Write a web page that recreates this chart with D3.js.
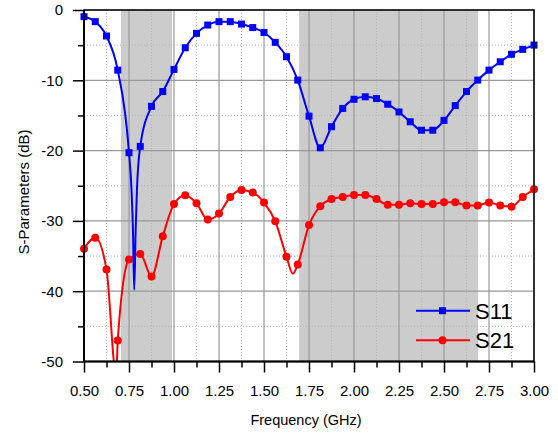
<!DOCTYPE html>
<html>
<head>
<meta charset="utf-8">
<title>S-Parameters</title>
<script src="https://cdn.jsdelivr.net/npm/d3@7"></script>
<style>
  body { margin: 0; background: #fff; }
  svg { display: block; font-family: "Liberation Sans", Arial, sans-serif; }
  .axis text { font-size: 15px; fill: #000; }
  .axis line { stroke: #000; stroke-width: 1.5; }
</style>
</head>
<body>
<script>

// frequency of every marker (GHz)
var freq = [0.5, 0.5625, 0.625, 0.6875, 0.75, 0.8125, 0.875, 0.9375,
  1.0, 1.0625, 1.125, 1.1875, 1.25, 1.3125, 1.375, 1.4375,
  1.5, 1.5625, 1.625, 1.6875, 1.75, 1.8125, 1.875, 1.9375,
  2.0, 2.0625, 2.125, 2.1875, 2.25, 2.3125, 2.375, 2.4375,
  2.5, 2.5625, 2.625, 2.6875, 2.75, 2.8125, 2.875, 2.9375, 3.0];

var s11 = [-0.95, -1.66, -3.7, -8.55, -20.3, -19.4, -13.7, -11.6,
  -8.45, -5.37, -3.32, -2.14, -1.66, -1.66, -2.0, -2.5,
  -3.2, -4.6, -6.65, -9.97, -15.1, -19.6, -16.6, -14.0,
  -12.7, -12.35, -12.6, -13.4, -14.5, -15.9, -17.1, -17.1,
  -15.7, -13.6, -11.6, -9.97, -8.55, -7.36, -6.3, -5.6, -4.99];

var s21 = [-33.95, -32.4, -36.9, -47.0, -35.5, -34.7, -37.9, -32.2,
  -27.6, -26.35, -27.5, -29.8, -28.96, -26.6, -25.6, -25.97,
  -27.4, -30.06, -35.1, -36.2, -30.6, -27.9, -26.9, -26.6,
  -26.3, -26.3, -26.9, -27.7, -27.7, -27.5, -27.6, -27.6,
  -27.35, -27.35, -27.8, -27.8, -27.4, -27.8, -27.97, -26.6, -25.5];

// curve points between markers (resonance dips), no marker drawn
var s11DipFreq = [0.764, 0.772, 0.779, 0.787, 0.794];
var s11DipVal = [-25.6, -31.3, -39.8, -31.3, -25.6];
var s21DipFreq = [0.679, 1.66];
var s21DipVal = [-52, -37.5];

// shaded bands (GHz)
var bands = [[0.705, 0.99], [1.695, 2.69]];

var xTicks = [0.5, 0.75, 1.0, 1.25, 1.5, 1.75, 2.0, 2.25, 2.5, 2.75, 3.0];
var xMinor = [0.625, 0.875, 1.125, 1.375, 1.625, 1.875, 2.125, 2.375, 2.625, 2.875];
var yTicks = [0, -10, -20, -30, -40, -50];
var yMinor = [-5, -15, -25, -35, -45];

var width = 558, height = 438;

var x = d3.scaleLinear().domain([0.5, 3.0]).range([84, 534]);
var y = d3.scaleLinear().domain([0, -50]).range([10, 361.5]);

var svg = d3.select("body").append("svg")
  .attr("width", width)
  .attr("height", height);

svg.append("defs").append("clipPath")
  .attr("id", "plot")
  .append("rect")
  .attr("x", x(0.5)).attr("y", y(0))
  .attr("width", x(3.0) - x(0.5))
  .attr("height", y(-50) - y(0));

// bands
svg.append("g").selectAll("rect")
  .data(bands)
  .enter().append("rect")
  .attr("x", d => x(d[0]))
  .attr("width", d => x(d[1]) - x(d[0]))
  .attr("y", y(0))
  .attr("height", y(-50) - y(0))
  .attr("fill", "#cccccc");

// grid: dotted minor, solid major
var grid = svg.append("g");
grid.selectAll(".xm").data(xMinor).enter().append("line")
  .attr("x1", d => x(d)).attr("x2", d => x(d))
  .attr("y1", y(0)).attr("y2", y(-50))
  .attr("stroke", "#b4b4b4").attr("stroke-width", 1)
  .attr("stroke-dasharray", "1,2");
grid.selectAll(".ym").data(yMinor).enter().append("line")
  .attr("y1", d => y(d)).attr("y2", d => y(d))
  .attr("x1", x(0.5)).attr("x2", x(3.0))
  .attr("stroke", "#b4b4b4").attr("stroke-width", 1)
  .attr("stroke-dasharray", "1,2");
grid.selectAll(".xM").data(xTicks).enter().append("line")
  .attr("x1", d => x(d)).attr("x2", d => x(d))
  .attr("y1", y(0)).attr("y2", y(-50))
  .attr("stroke", "#999").attr("stroke-width", 1.2);
grid.selectAll(".yM").data(yTicks).enter().append("line")
  .attr("y1", d => y(d)).attr("y2", d => y(d))
  .attr("x1", x(0.5)).attr("x2", x(3.0))
  .attr("stroke", "#999").attr("stroke-width", 1.2);

function curvePoints(f, v, df, dv) {
  var pts = f.map((d, i) => [d, v[i]]).concat(df.map((d, i) => [d, dv[i]]));
  return pts.sort((a, b) => a[0] - b[0]);
}

var line = d3.line()
  .x(d => x(d[0]))
  .y(d => y(d[1]))
  .curve(d3.curveMonotoneX);

var series = [
  { name: "S21", color: "#ff0000", vals: s21, df: s21DipFreq, dv: s21DipVal, marker: "circle" },
  { name: "S11", color: "#0000ff", vals: s11, df: s11DipFreq, dv: s11DipVal, marker: "square" }
];

series.forEach(function(s) {
  svg.append("path")
    .attr("clip-path", "url(#plot)")
    .attr("d", line(curvePoints(freq, s.vals, s.df, s.dv)))
    .attr("fill", "none")
    .attr("stroke", s.color)
    .attr("stroke-width", 2);

  var g = svg.append("g").attr("fill", s.color);
  if (s.marker == "square") {
    g.selectAll("rect").data(s.vals).enter().append("rect")
      .attr("x", (d, i) => x(freq[i]) - 3.5)
      .attr("y", d => y(d) - 3.5)
      .attr("width", 7).attr("height", 7);
  } else {
    g.selectAll("circle").data(s.vals).enter().append("circle")
      .attr("cx", (d, i) => x(freq[i]))
      .attr("cy", d => y(d))
      .attr("r", 4);
  }
});

// frame
svg.append("rect")
  .attr("x", x(0.5)).attr("y", y(0))
  .attr("width", x(3.0) - x(0.5))
  .attr("height", y(-50) - y(0))
  .attr("fill", "none")
  .attr("stroke", "#000")
  .attr("stroke-width", 1.5);

// axes
svg.append("g").attr("class", "axis")
  .attr("transform", `translate(0,${y(-50)})`)
  .call(d3.axisBottom(x).tickValues(xTicks).tickSize(11).tickPadding(13)
    .tickFormat(d3.format(".2f")));
svg.append("g").attr("class", "axis")
  .attr("transform", `translate(0,${y(-50)})`)
  .call(d3.axisBottom(x).tickValues(xMinor).tickSize(6).tickFormat(""));

svg.append("g").attr("class", "axis")
  .attr("transform", `translate(${x(0.5)},0)`)
  .call(d3.axisLeft(y).tickValues(yTicks).tickSize(11).tickPadding(10)
    .tickFormat(d => String(d)));
svg.append("g").attr("class", "axis")
  .attr("transform", `translate(${x(0.5)},0)`)
  .call(d3.axisLeft(y).tickValues(yMinor).tickSize(6).tickFormat(""));

svg.selectAll(".axis .domain").remove();

// thicker left and bottom axis lines
svg.append("line")
  .attr("x1", x(0.5)).attr("x2", x(3.0))
  .attr("y1", y(-50)).attr("y2", y(-50))
  .attr("stroke", "#000").attr("stroke-width", 2);
svg.append("line")
  .attr("x1", x(0.5)).attr("x2", x(0.5))
  .attr("y1", y(0)).attr("y2", y(-50))
  .attr("stroke", "#000").attr("stroke-width", 2);

// titles
svg.append("text")
  .attr("x", 306).attr("y", 425)
  .attr("text-anchor", "middle")
  .style("font-size", "14.5px")
  .text("Frequency (GHz)");

svg.append("text")
  .attr("transform", "translate(28.5,192) rotate(-90)")
  .attr("text-anchor", "middle")
  .style("font-size", "15px")
  .text("S-Parameters (dB)");

// legend
var legend = svg.append("g");
[series[1], series[0]].forEach(function(s, i) {
  var ly = 310.7 + i * 29.5;
  legend.append("line")
    .attr("x1", 416).attr("x2", 470)
    .attr("y1", ly).attr("y2", ly)
    .attr("stroke", s.color).attr("stroke-width", 2);
  if (s.marker == "square") {
    legend.append("rect")
      .attr("x", 442.5 - 3.5).attr("y", ly - 3.5)
      .attr("width", 7).attr("height", 7)
      .attr("fill", s.color);
  } else {
    legend.append("circle")
      .attr("cx", 442.5).attr("cy", ly).attr("r", 4)
      .attr("fill", s.color);
  }
  legend.append("text")
    .attr("x", 475).attr("y", ly + 7.8)
    .style("font-size", "22px")
    .text(s.name);
});

</script>
</body>
</html>
